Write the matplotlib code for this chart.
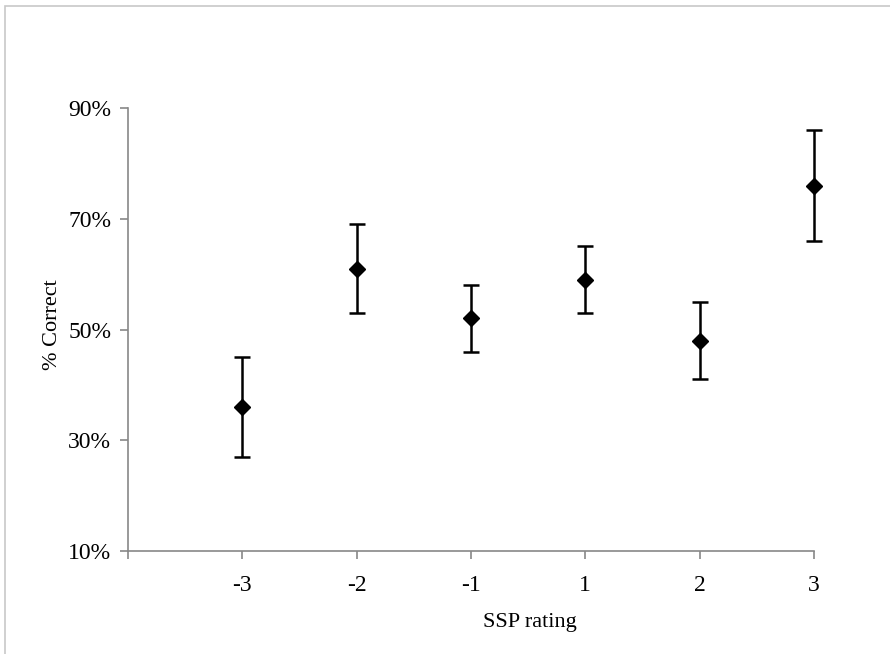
import matplotlib
matplotlib.use("Agg")
import matplotlib.pyplot as plt
from matplotlib.patches import Rectangle

categories = ["-3", "-2", "-1", "1", "2", "3"]
pct_correct = [36, 61, 52, 59, 48, 76]
err_low = [27, 53, 46, 53, 41, 66]
err_high = [45, 69, 58, 65, 55, 86]
y_ticks = [10, 30, 50, 70, 90]

plt.rcParams['font.family'] = ['Liberation Serif', 'DejaVu Serif']

fig = plt.figure(figsize=(8.9, 6.54), dpi=100)
fig.patches.append(Rectangle((5/890, -0.1), 1.2, (654-6)/654 + 0.1, transform=fig.transFigure,
                             fill=False, edgecolor='#c8c8c8', linewidth=1.2))
ax = fig.add_axes([128/890, (654-551)/654, (814-128)/890, (551-108)/654])

xs = list(range(1, len(categories) + 1))
lower = [p - l for p, l in zip(pct_correct, err_low)]
upper = [h - p for p, h in zip(pct_correct, err_high)]
cont = ax.errorbar(xs, pct_correct, yerr=[lower, upper], fmt='D', color='black',
                   markersize=8, ecolor='black', elinewidth=1.8, capsize=5.5, capthick=1.8)
arts = [cont.lines[0]] + list(cont.lines[1]) + list(cont.lines[2])
for art in arts:
    if art is not None:
        art.set_clip_on(False)

ax.set_xlim(0, len(categories))
ax.set_ylim(10, 90)
ax.set_xticks([0] + xs)
ax.set_xticklabels([""] + categories)
ax.set_yticks(y_ticks)
ax.set_yticklabels([f"{v}%" for v in y_ticks])

for s in ['top', 'right']:
    ax.spines[s].set_visible(False)
for s in ['left', 'bottom']:
    ax.spines[s].set_color('#888888')
    ax.spines[s].set_linewidth(1.2)
ax.tick_params(axis='both', colors='#888888', length=6, width=1.2, labelsize=17,
               labelcolor='black')
ax.tick_params(axis='x', pad=11)
ax.tick_params(axis='y', pad=6)

ax.set_xlabel("SSP rating", fontsize=16)
ax.xaxis.set_label_coords((530-128)/686, -0.139)
ax.set_ylabel("% Correct", fontsize=16)
ax.yaxis.set_label_coords(-(128-62)/686, 0.51)

fig.savefig("out.png", dpi=100)
